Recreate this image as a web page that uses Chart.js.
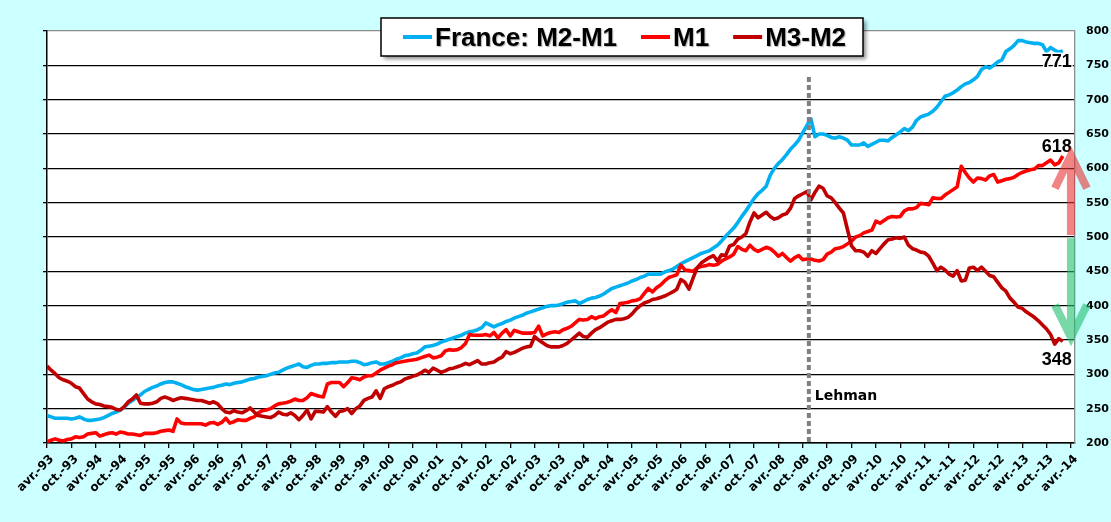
<!DOCTYPE html>
<html>
<head>
<meta charset="utf-8">
<script src="https://cdn.jsdelivr.net/npm/chart.js@4.4.1/dist/chart.umd.min.js"></script>
<style>
html,body{margin:0;padding:0;background:#CCFFFF;}
canvas{display:block;}
</style>
</head>
<body>
<canvas id="c" width="1111" height="522"></canvas>
<script>
// Monthly data, index 0 = avr.-93
const m2m1 = [
240,238,236,236,236,236,235,236,238,235,233,233,
234,235,237,240,243,245,248,252,258,262,266,270,
275,278,281,283,286,288,289,289,287,285,282,280,
278,277,278,279,280,281,283,284,286,285,287,288,
289,291,293,294,296,297,298,300,302,303,306,309,
311,313,315,311,310,313,315,315,316,316,317,317,
318,318,318,319,319,317,314,315,317,318,315,315,
317,319,322,324,327,328,330,331,335,340,341,342,
344,347,349,351,353,355,357,360,362,363,365,368,
375,372,369,372,374,377,379,382,384,386,389,391,
393,395,397,399,400,400,401,403,405,406,407,403,
406,409,411,412,414,417,421,425,427,429,431,433,
436,438,441,443,446,446,446,446,449,451,453,457,
461,464,467,470,473,476,478,480,484,488,494,501,
507,513,521,530,538,547,556,563,568,574,590,600,
607,613,620,628,634,641,652,662,672,646,650,650,
648,645,644,646,644,641,634,634,634,637,632,635,
638,641,641,640,645,649,653,658,655,660,670,675,
677,679,683,689,697,705,707,710,714,719,723,725,
729,734,744,748,746,750,755,758,770,774,779,786,
786,784,783,782,782,780,770,776,772,769,771
];
const m1 = [
202,204,206,204,203,205,206,209,208,209,213,214,
215,210,212,214,215,213,216,215,213,213,212,211,
214,214,214,215,217,218,219,217,235,229,228,228,
228,228,228,226,229,230,227,230,236,229,231,234,
233,233,236,238,244,247,248,250,254,257,258,259,
261,264,262,262,266,272,270,268,267,286,288,288,
288,282,288,295,294,292,296,298,298,302,306,309,
312,314,317,318,319,320,321,322,324,326,328,324,
325,327,334,336,335,336,339,345,358,357,357,357,
358,356,361,353,360,365,356,364,362,360,360,360,
361,370,356,359,361,362,361,365,367,370,375,380,
379,380,384,381,384,385,390,394,390,403,404,405,
407,408,410,418,425,420,426,430,436,441,443,445,
459,452,451,450,455,457,458,460,459,460,465,468,
471,475,486,482,480,488,482,479,482,485,483,478,
472,476,470,465,470,473,467,468,468,466,465,467,
475,478,483,484,486,490,494,500,502,506,508,510,
523,520,524,528,530,529,530,538,541,541,543,549,
548,547,557,556,556,561,565,569,573,603,594,586,
580,586,585,583,589,591,580,582,584,585,587,591,
594,596,598,599,604,604,608,612,605,608,618
];
const m3m2 = [
312,306,301,295,292,290,287,282,280,272,264,260,
257,256,254,253,252,249,248,253,260,264,270,258,
257,257,258,260,265,267,265,262,264,266,265,264,
263,262,262,260,258,260,257,250,245,244,247,245,
244,247,251,245,240,239,238,237,240,245,242,241,
244,240,234,240,248,235,246,246,245,253,245,239,
246,247,250,243,250,254,262,265,267,276,265,279,
282,284,287,289,293,295,297,299,302,306,303,309,
306,303,305,308,309,311,313,316,314,317,320,315,
315,317,318,322,325,333,330,332,335,338,340,341,
355,350,346,342,340,340,340,342,345,350,355,360,
355,354,360,365,368,372,376,378,380,380,381,383,
388,395,400,404,406,409,410,412,414,417,420,424,
438,434,424,440,455,462,466,470,473,465,474,473,
487,489,497,500,505,522,535,528,532,536,530,526,
528,532,534,542,556,560,563,566,554,565,574,571,
560,557,550,542,535,511,487,480,480,478,472,480,
476,483,490,496,497,499,498,500,488,483,481,478,
477,472,462,451,456,452,446,443,451,436,437,455,
456,451,456,450,444,442,434,426,421,411,405,398,
396,391,387,383,378,372,366,358,344,352,348
];
const tickLabels = [
'avr.-93','oct.-93','avr.-94','oct.-94','avr.-95','oct.-95','avr.-96','oct.-96',
'avr.-97','oct.-97','avr.-98','oct.-98','avr.-99','oct.-99','avr.-00','oct.-00',
'avr.-01','oct.-01','avr.-02','oct.-02','avr.-03','oct.-03','avr.-04','oct.-04',
'avr.-05','oct.-05','avr.-06','oct.-06','avr.-07','oct.-07','avr.-08','oct.-08',
'avr.-09','oct.-09','avr.-10','oct.-10','avr.-11','oct.-11','avr.-12','oct.-12',
'avr.-13','oct.-13','avr.-14'
];
const seriesNames = ['France: M2-M1','M1','M3-M2'];
const seriesColors = ['#00B0F0','#FF0000','#C00000'];
const lehmanMonth = 187.5;
const lehmanLabel = 'Lehman';
const arrowMonth = 252;
const upArrow = {from:503, to:619, arm:571};
const downArrow = {from:498, to:354, arm:401};

const toXY = arr => arr.map((v,i)=>({x:i,y:v}));

const bgPlugin = {
  id:'bg',
  beforeDraw(chart){
    const {ctx, chartArea:a} = chart;
    ctx.save();
    ctx.fillStyle = '#CCFFFF';
    ctx.fillRect(0,0,chart.width,chart.height);
    ctx.fillStyle = '#FFFFFF';
    ctx.fillRect(a.left,a.top,a.right-a.left,a.bottom-a.top);
    ctx.restore();
  }
};

function drawArrow(ctx, x, y0, y1, yArm, half, color){
  ctx.save();
  ctx.strokeStyle = color;
  ctx.lineWidth = 8;
  ctx.lineCap = 'butt';
  ctx.lineJoin = 'miter';
  ctx.beginPath();
  ctx.moveTo(x-half, yArm);
  ctx.lineTo(x, y1);
  ctx.lineTo(x+half, yArm);
  ctx.moveTo(x, y1);
  ctx.lineTo(x, y0);
  ctx.stroke();
  ctx.restore();
}

const annotPlugin = {
  id:'annot',
  afterDatasetsDraw(chart){
    const {ctx, scales:{x,y}, chartArea:a} = chart;
    ctx.save();
    // Lehman dotted line
    const lx = x.getPixelForValue(lehmanMonth);
    ctx.strokeStyle = '#808080';
    ctx.lineWidth = 4;
    ctx.setLineDash([5,3]);
    ctx.beginPath();
    ctx.moveTo(lx, y.getPixelForValue(733));
    ctx.lineTo(lx, a.bottom);
    ctx.stroke();
    ctx.setLineDash([]);
    ctx.fillStyle = '#000';
    ctx.font = 'bold 14px "DejaVu Sans"';
    ctx.textAlign = 'left';
    ctx.textBaseline = 'alphabetic';
    ctx.fillText(lehmanLabel, lx+6, y.getPixelForValue(262));
    ctx.restore();
  },
  afterDraw(chart){
    const {ctx, scales:{x,y}} = chart;
    // end value labels
    const last = m2m1.length-1;
    const lxp = x.getPixelForValue(last);
    const labels = [
      {v:m2m1[last], dy:16},
      {v:m1[last], dy:-4},
      {v:m3m2[last], dy:24}
    ];
    ctx.save();
    ctx.font = 'bold 18px "Liberation Sans"';
    ctx.textAlign = 'center';
    ctx.textBaseline = 'alphabetic';
    ctx.lineJoin = 'round';
    labels.forEach(l=>{
      const px = lxp-6, py = y.getPixelForValue(l.v)+l.dy;
      ctx.strokeStyle = 'rgba(255,255,255,0.9)';
      ctx.lineWidth = 3;
      ctx.strokeText(String(l.v), px, py);
      ctx.fillStyle = '#000';
      ctx.fillText(String(l.v), px, py);
    });
    ctx.restore();
    // arrows
    const ax = x.getPixelForValue(arrowMonth);
    drawArrow(ctx, ax, y.getPixelForValue(upArrow.from), y.getPixelForValue(upArrow.to), y.getPixelForValue(upArrow.arm), 16, 'rgba(232,50,50,0.6)');
    drawArrow(ctx, ax, y.getPixelForValue(downArrow.from), y.getPixelForValue(downArrow.to), y.getPixelForValue(downArrow.arm), 16, 'rgba(30,190,110,0.6)');
    // legend
    ctx.save();
    const bx=381, by=18, bw=482, bh=38;
    ctx.shadowColor='rgba(0,0,0,0.45)';
    ctx.shadowBlur=4; ctx.shadowOffsetX=3; ctx.shadowOffsetY=3;
    ctx.fillStyle='#fff';
    ctx.fillRect(bx,by,bw,bh);
    ctx.shadowColor='transparent';
    ctx.strokeStyle='#000'; ctx.lineWidth=1.5;
    ctx.strokeRect(bx,by,bw,bh);
    ctx.font='bold 26px "Liberation Sans"';
    ctx.textBaseline='alphabetic';
    ctx.textAlign='left';
    let cx = 403;
    seriesNames.forEach((n,i)=>{
      ctx.strokeStyle=seriesColors[i];
      ctx.lineWidth=4;
      ctx.beginPath(); ctx.moveTo(cx,37); ctx.lineTo(cx+29,37); ctx.stroke();
      ctx.fillStyle='#000';
      ctx.shadowColor='rgba(0,0,0,0.3)'; ctx.shadowBlur=1; ctx.shadowOffsetX=1; ctx.shadowOffsetY=1;
      ctx.fillText(n, cx+32, 46);
      ctx.shadowColor='transparent';
      cx += 32 + ctx.measureText(n).width + 24;
    });
    ctx.restore();
  }
};

new Chart(document.getElementById('c'), {
  type:'line',
  data:{
    datasets:[
      {label:seriesNames[0], data:toXY(m2m1), borderColor:seriesColors[0], order:3},
      {label:seriesNames[1], data:toXY(m1), borderColor:seriesColors[1], order:2},
      {label:seriesNames[2], data:toXY(m3m2), borderColor:seriesColors[2], order:1}
    ]
  },
  options:{
    responsive:false,
    devicePixelRatio:1,
    animation:false,
    layout:{padding:{top:31,left:0,right:0,bottom:0}},
    elements:{point:{radius:0}, line:{borderWidth:3.6, tension:0, borderJoinStyle:'round'}},
    plugins:{legend:{display:false}, tooltip:{enabled:false}},
    scales:{
      x:{
        type:'linear', min:0, max:253,
        afterFit(s){ s.height = 79; },
        ticks:{
          stepSize:6, includeBounds:false, autoSkip:false,
          maxRotation:45, minRotation:45,
          font:{family:'DejaVu Sans', weight:'bold', size:12},
          color:'#000', padding:4, labelOffset:5,
          callback:(v)=> tickLabels[Math.round(v/6)] ?? ''
        },
        grid:{drawOnChartArea:false, drawTicks:true, tickLength:5, color:'#000', lineWidth:1.3},
        border:{color:'#000', width:1.5}
      },
      yL:{
        position:'left', min:200, max:800,
        afterFit(s){ s.width = 47; },
        ticks:{stepSize:50, display:false},
        grid:{
          color:(c)=> (c.tick && c.tick.value===800) ? '#8c8c8c' : '#000',
          tickColor:'#000', lineWidth:1.3, tickLength:4, drawTicks:true
        },
        border:{color:'#000', width:1.5}
      },
      y:{
        position:'right', min:200, max:800,
        afterFit(s){ s.width = 36; },
        ticks:{stepSize:50, font:{family:'DejaVu Sans', weight:'bold', size:11}, color:'#000', padding:11},
        grid:{display:false, drawTicks:false},
        border:{color:'#8c8c8c', width:1.3}
      }
    }
  },
  plugins:[bgPlugin, annotPlugin]
});
</script>
</body>
</html>
